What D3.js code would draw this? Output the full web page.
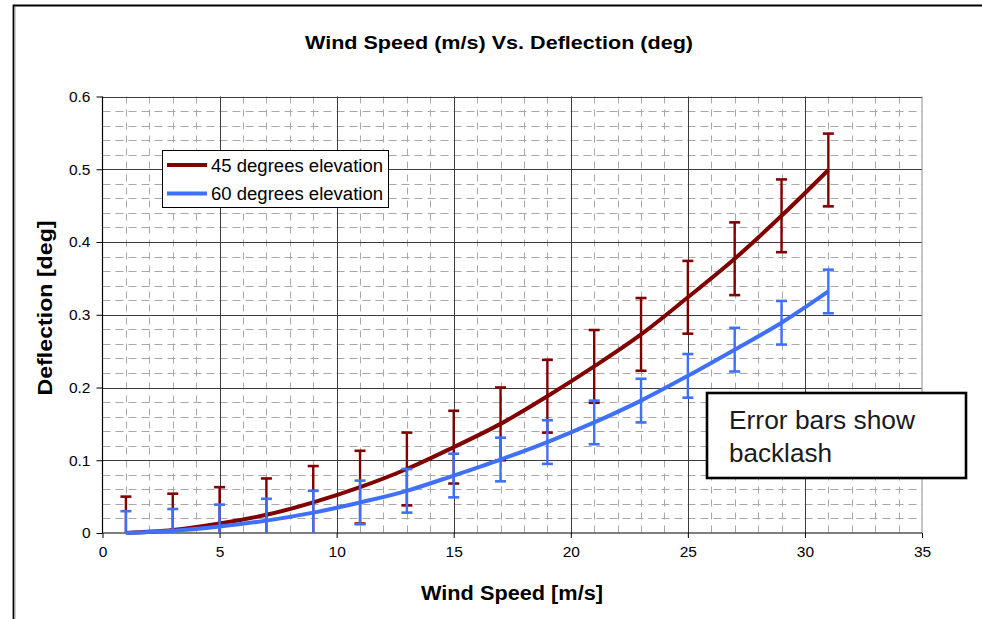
<!DOCTYPE html>
<html>
<head>
<meta charset="utf-8">
<script src="https://cdn.jsdelivr.net/npm/d3@7"></script>
<style>
  html, body { margin: 0; padding: 0; background: #fff; }
  svg { display: block; }
  text { font-family: "Liberation Sans", Arial, sans-serif; }
</style>
</head>
<body>
<svg id="chart" width="982" height="619"></svg>
<script>
// ---- data ----
const windSpeed = [1, 3, 5, 7, 9, 11, 13, 15, 17, 19, 21, 23, 25, 27, 29, 31];
const deflection45 = [0.000, 0.004, 0.013, 0.025, 0.042, 0.063, 0.088, 0.118, 0.150, 0.188, 0.229, 0.273, 0.324, 0.377, 0.436, 0.499];
const deflection60 = [0.000, 0.003, 0.009, 0.017, 0.028, 0.042, 0.058, 0.079, 0.101, 0.125, 0.152, 0.182, 0.216, 0.252, 0.289, 0.332];
const backlash45 = 0.05;
const backlash60 = 0.03;
const seriesNames = ["45 degrees elevation", "60 degrees elevation"];
const xTicks = [0, 5, 10, 15, 20, 25, 30, 35];
const yTicks = [0, 0.1, 0.2, 0.3, 0.4, 0.5, 0.6];
const titleText = "Wind Speed (m/s) Vs. Deflection (deg)";
const xTitle = "Wind Speed [m/s]";
const yTitle = "Deflection [deg]";
const noteLines = ["Error bars show", "backlash"];

// ---- layout ----
const svg = d3.select("#chart");
const colors = ["#800000", "#3F70FA"];
const plot = { left: 102.5, right: 922, top: 96.5, bottom: 533 };
const x = d3.scaleLinear().domain([0, 35]).range([plot.left, plot.right]);
const y = d3.scaleLinear().domain([0, 0.6]).range([plot.bottom, plot.top]);

// outer chart border
svg.append("path")
  .attr("d", `M13.5,619 L13.5,5.5 L982,5.5`)
  .attr("fill", "none").attr("stroke", "#000").attr("stroke-width", 1.8);
svg.append("path")
  .attr("d", `M15,619 L15,7`)
  .attr("fill", "none").attr("stroke", "#a0a0a0").attr("stroke-width", 1);

// minor grid
const minorX = d3.range(1, 35).filter(v => v % 5 !== 0);
const minorY = d3.range(1, 30).map(v => v * 0.02).filter((v, i) => (i + 1) % 5 !== 0);
const grid = svg.append("g");
grid.selectAll(".mx").data(minorX).join("line")
  .attr("x1", d => Math.round(x(d)) + 0.5).attr("x2", d => Math.round(x(d)) + 0.5)
  .attr("y1", plot.top).attr("y2", plot.bottom)
  .attr("stroke", "#a8a8a8").attr("stroke-width", 1)
  .attr("stroke-dasharray", "7,6");
grid.selectAll(".my").data(minorY).join("line")
  .attr("y1", d => Math.round(y(d)) + 0.5).attr("y2", d => Math.round(y(d)) + 0.5)
  .attr("x1", plot.left).attr("x2", plot.right)
  .attr("stroke", "#a8a8a8").attr("stroke-width", 1)
  .attr("stroke-dasharray", "8,5");

// major grid
grid.selectAll(".Mx").data(xTicks.filter(d => d > 0 && d < 35)).join("line")
  .attr("x1", d => Math.round(x(d)) + 0.5).attr("x2", d => Math.round(x(d)) + 0.5)
  .attr("y1", plot.top).attr("y2", plot.bottom)
  .attr("stroke", "#3c3c3c").attr("stroke-width", 1);
grid.selectAll(".My").data(yTicks.filter(d => d > 0)).join("line")
  .attr("y1", d => Math.round(y(d)) + 0.5).attr("y2", d => Math.round(y(d)) + 0.5)
  .attr("x1", plot.left).attr("x2", plot.right)
  .attr("stroke", "#3c3c3c").attr("stroke-width", 1);
// right plot border
svg.append("line")
  .attr("x1", plot.right).attr("x2", plot.right)
  .attr("y1", plot.top).attr("y2", plot.bottom)
  .attr("stroke", "#8c8c8c").attr("stroke-width", 1);

// axes
const xAxis = d3.axisBottom(x).tickValues(xTicks).tickSize(5).tickPadding(8).tickFormat(d3.format("d"));
const yAxis = d3.axisLeft(y).tickValues(yTicks).tickSize(6).tickPadding(6).tickFormat(d => d === 0 ? "0" : d3.format(".1f")(d));
const gx = svg.append("g").attr("transform", `translate(0,${plot.bottom})`).call(xAxis);
const gy = svg.append("g").attr("transform", `translate(${plot.left},0)`).call(yAxis);
[gx, gy].forEach(g => {
  g.select(".domain").attr("stroke", "#000").attr("stroke-width", 1.2);
  g.selectAll(".tick line").attr("stroke", "#000");
  g.selectAll(".tick text").attr("font-size", 15.5).attr("fill", "#000")
    .attr("font-family", "'Liberation Sans', Arial, sans-serif");
});
gy.select(".domain").attr("d", `M0,${plot.top}V${plot.bottom}`);
gx.select(".domain").attr("d", `M${plot.left},0H${plot.right}`);

// series
const series = [
  { vals: deflection45, err: backlash45, color: colors[0] },
  { vals: deflection60, err: backlash60, color: colors[1] }
];
const line = d3.line().x(d => x(d[0])).y(d => y(d[1])).curve(d3.curveCatmullRom.alpha(0.5));
const capW = 5.5;
series.forEach(s => {
  const g = svg.append("g");
  const pts = windSpeed.map((w, i) => [w, s.vals[i]]);
  pts.forEach(p => {
    const hi = Math.min(p[1] + s.err, 0.6), lo = Math.max(p[1] - s.err, 0);
    g.append("line")
      .attr("x1", x(p[0])).attr("x2", x(p[0]))
      .attr("y1", y(hi)).attr("y2", y(lo))
      .attr("stroke", s.color).attr("stroke-width", 2.4);
    [p[1] + s.err, p[1] - s.err].forEach(v => {
      if (v >= 0 && v <= 0.6) {
        g.append("line")
          .attr("x1", x(p[0]) - capW).attr("x2", x(p[0]) + capW)
          .attr("y1", y(v)).attr("y2", y(v))
          .attr("stroke", s.color).attr("stroke-width", 2.6);
      }
    });
  });
  g.append("path").datum(pts)
    .attr("d", line)
    .attr("fill", "none").attr("stroke", s.color).attr("stroke-width", 4)
    .attr("stroke-linejoin", "round");
});

// title
svg.append("text").attr("x", 499).attr("y", 49).attr("text-anchor", "middle")
  .attr("font-size", 18.5).attr("font-weight", "bold")
  .attr("textLength", 388).attr("lengthAdjust", "spacingAndGlyphs")
  .text(titleText);
// x title
svg.append("text").attr("x", 512).attr("y", 600).attr("text-anchor", "middle")
  .attr("font-size", 19.5).attr("font-weight", "bold")
  .attr("textLength", 182).attr("lengthAdjust", "spacingAndGlyphs")
  .text(xTitle);
// y title
svg.append("text").attr("transform", `translate(52,308) rotate(-90)`).attr("text-anchor", "middle")
  .attr("font-size", 19.5).attr("font-weight", "bold")
  .attr("textLength", 175).attr("lengthAdjust", "spacingAndGlyphs")
  .text(yTitle);

// legend
const lg = svg.append("g");
lg.append("rect").attr("x", 162.5).attr("y", 150.5).attr("width", 226).attr("height", 57)
  .attr("fill", "#fff").attr("stroke", "#000").attr("stroke-width", 1);
seriesNames.forEach((name, i) => {
  const cy = 165 + i * 28.5;
  lg.append("line").attr("x1", 167).attr("x2", 207).attr("y1", cy).attr("y2", cy)
    .attr("stroke", colors[i]).attr("stroke-width", 4);
  lg.append("text").attr("x", 211).attr("y", cy + 6.5)
    .attr("font-size", 18).attr("fill", "#000")
    .attr("textLength", 172).attr("lengthAdjust", "spacingAndGlyphs")
    .text(name);
});

// annotation box
const nb = svg.append("g");
nb.append("rect").attr("x", 707).attr("y", 393).attr("width", 259).attr("height", 85)
  .attr("fill", "#fff").attr("stroke", "#000").attr("stroke-width", 2.6);
const noteLens = [186, 103];
noteLines.forEach((t, i) => {
  nb.append("text").attr("x", 729).attr("y", 429 + i * 32.5)
    .attr("font-size", 25.5).attr("fill", "#1a1a1a")
    .attr("textLength", noteLens[i]).attr("lengthAdjust", "spacingAndGlyphs")
    .text(t);
});
</script>
</body>
</html>
